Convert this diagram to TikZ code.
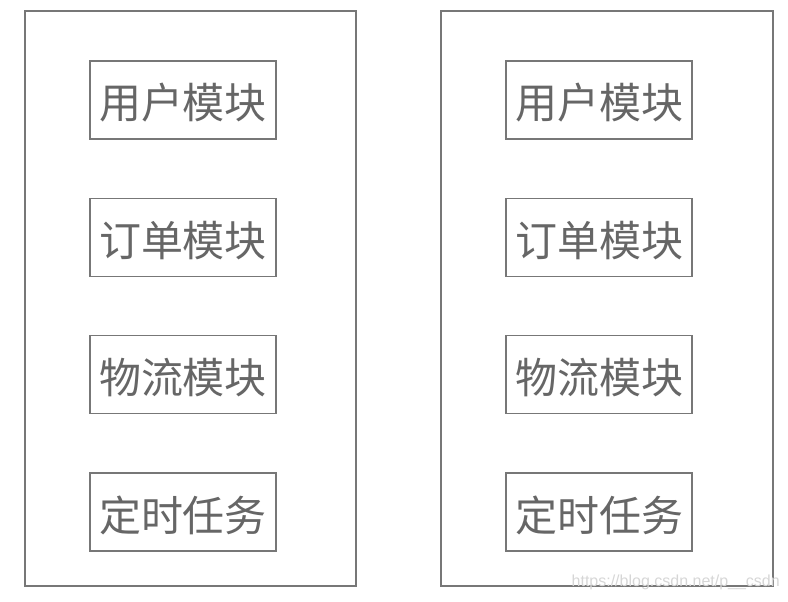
\documentclass[tikz,border=0pt]{standalone}
\usepackage{fontspec}
\newfontfamily\cjk{Noto Sans CJK SC}
\setsansfont{Liberation Sans}
\definecolor{edge}{HTML}{777777}
\definecolor{txt}{HTML}{666666}
\definecolor{wm}{HTML}{D6D6D6}
\begin{document}
\begin{tikzpicture}[x=1pt,y=-1pt,
  outer/.style={draw=edge,line width=2pt},
  modbox/.style={draw=edge,line width=1.6pt,minimum width=186pt,minimum height=78pt,inner sep=0pt},
  modtext/.style={inner sep=0pt,text=txt,font=\cjk\fontsize{42}{42}\selectfont,yshift=-3pt},
  wmark/.style={text=wm,font=\fontsize{16}{16}\selectfont\sffamily,inner sep=0pt,anchor=east}]
\useasboundingbox (0,0) rectangle (788,602);
\draw[outer] (25,11) rectangle (356,586);
\draw[outer] (441,11) rectangle (773,586);
\foreach \cx/\p in {183/L,599/R}{
  \node[modbox] (user\p) at (\cx,100) {};
  \node[modbox] (order\p) at (\cx,237.5) {};
  \node[modbox] (logi\p) at (\cx,374.5) {};
  \node[modbox] (task\p) at (\cx,512) {};
  \node[modtext] (userT\p) at (user\p.center) {用户模块};
  \node[modtext] (orderT\p) at (order\p.center) {订单模块};
  \node[modtext] (logiT\p) at (logi\p.center) {物流模块};
  \node[modtext] (taskT\p) at (task\p.center) {定时任务};
}
\node[wmark] (wm) at (780,582) {https://blog.csdn.net/p\_\_csdn};
\end{tikzpicture}
\end{document}
